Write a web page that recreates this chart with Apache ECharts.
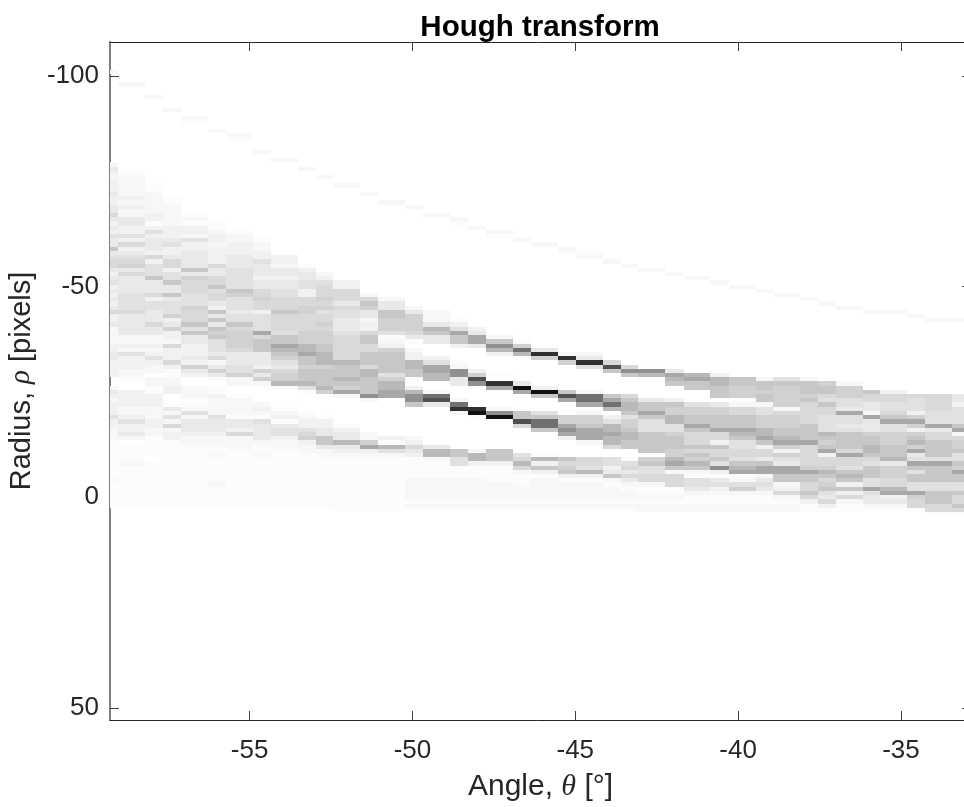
<!DOCTYPE html>
<html>
<head>
<meta charset="utf-8">
<title>Hough transform</title>
<script src="https://cdn.jsdelivr.net/npm/echarts@6/dist/echarts.min.js"></script>
<style>
    html,body{margin:0;padding:0;background:#fff;overflow:hidden}
    #chart{width:964px;height:807px}
</style>
</head>
<body>
<div id="chart"></div>
<script>
// column borders of the image, in degrees
const thetaEdges = [-59.285,-59.04,-58.21,-57.66,-57.11,-56.28,-55.73,-54.90,-54.35,-53.52,-52.97,
    -52.45,-51.62,-51.06,-50.24,-49.68,-48.86,-48.30,-47.75,-46.92,-46.37,-45.54,-44.99,-44.16,-43.61,
    -43.06,-42.23,-41.67,-40.85,-40.29,-39.46,-38.94,-38.11,-37.56,-37.00,-36.18,-35.63,-34.80,-34.25,
    -33.42,-32.70]

// first rho of every column
const bandStart = [-79,-77,-74,-71,-67,-65,-63,-61,-57,-55,-53,-51,-48,-47,-45,-44,-42,-40,-38,-37,
    -35,-34,-34,-32,-31,-30,-30,-29,-29,-28,-28,-28,-28,-27,-27,-25,-25,-24,-24,-24]

// accumulator darkness per rho, one hex digit per row, read column by column
const bandVotes = [
    '2432 3334 3344 6434 3544 8456 6434 5343 4346 3342 2223 3443 3330 0243 2333 5332 2211 1111 1112 111111',
    '122222 32322 44335 36345 67464 44455 55644 44422 32533 32210 03333 22353 34201 11121 11111 1111',
    '11222 22331 35344 43635 55844 46355 44464 42232 35322 02211 33322 23322 11111 011111111111',
    '11222 22333 45334 66355 84484 55573 47332 63336 31122 33000 42526 23311 11111111111111',
    '12133 25334 44484 76665 55766 68584 43334 37430 02221 12524 44322 111111111111111',
    '11233 23333 64466 85664 38484 87855 54624 74101 13222 25444 32211 21111 11211 111',
    '12233 34445 55558 75554 55867 77764 44557 22001 22221 44362 22111 11111111111',
    '12233 54443 44667 66355 55a68 88444 37472 00002 32154 44421 12111 111111111',
    '33244 34455 66686 66658 8a987 54677 91000 01231 45532 21111 1111111111',
    '13445 53366 77666 67779 9a887 88895 10000 12335 67322 1111111111111',
    '23566 67675 66767 77889 99788 88970 00001 33448 84221 11111111111',
    '33666 46554 44566 66669 88898 7a200 00001 34494 32111 1111111111',
    '26874 42336 88668 88699 8888b 20000 00022 7a321 111111111111',
    '24488 77751 23788 88857 99aa0 00000 00031 95211 11111111111',
    '24777 76410 23399 88103 9bb80 00000 02364 31111 122222121',
    '22249 84400 035aa 99002 cd400 00000 00499 21111 22222121',
    '135a8 83000 12bb4 40002 ce200 00000 08855 11122 222121',
    '34aa4 00000 37db1 0000e f1000 00002 99311 122222121',
    '28b93 00001 0ea00 002bf 10000 00888 31111 2222121',
    '17c90 00000 4fa00 0088d 60000 00569 62111 222121',
    '4e700 00003 f8000 58cc8 00000 19383 122222121',
    '2e700 00008 da000 77aba 30000 86783 12222121',
    '24e50 00002 cca12 778aa a2000 66593 12222121',
    '6d800 0008a c9035 99a99 60055 34821 222121',
    '6b800 00689 98577 89988 00156 46421 22121',
    'b9100 00488 a8555 88888 07855 66211 2122',
    '4a980 00387 79955 78887 79a82 66611 2122',
    '9a880 00577 88a86 66868 79821 55421 122',
    '39988 80477 888a6 63866 85b31 45321 122',
    '88777 12668 88a98 55665 89a12 57211 22',
    '28878 82557 7799a 83664 8aa24 54211 22',
    '58777 77267 77889 a7375 4aa88 23621 22',
    '28887 86666 68888 a6666 67a88 66863 11',
    '78865 86655 55987 8a366 79867 85463 1',
    '27775 54a55 45888 86a66 58983 83621 1',
    '86644 2a444 78899 86588 855a5 4421',
    '36655 68a55 77788 89477 7669a 3421',
    '65553 7a737 897a4 5a858 855a7 661',
    '66665 55a46 68888 5a888 85588 8661',
    '44355 558a2 67785 587a8 85586 6861'
]

// the faint separate trace above the bands: rho per column
const traceRho = [-101,-98,-95,-92,-90,-87,-86,-82,-80,-78,-76,-74,-72,-70,-69,-67,-66,-64,-63,-61,
    -60,-59,-57,-56,-55,-54,-53,-52,-51,-50,-49,-48,-47,-46,-45,-44,-44,-43,-42,-42]
// columns where the trace also touches a second, paler row [column, rho]
const traceExtra = [[4,-89],[6,-85],[16,-65],[18,-62],[21,-58],[22,-58]]

// hex digit -> grey value
const greyLevels = [255,252,247,241,233,225,217,209,199,185,168,144,112,80,48,16]

const angleTicks = [-55,-50,-45,-40,-35]
const radiusTicks = [-100,-50,0,50]

const inkColor = '#262626'
const labelFont = '"Liberation Sans", Arial, sans-serif'

function buildCells(){
    let cells = []
    bandVotes.forEach((col,k) =>{
        let digits = col.replace(/ /g,'')
        for(let i = 0; i < digits.length; i++){
            let level = parseInt(digits[i],16)
            if(level > 0){
                cells.push([thetaEdges[k],thetaEdges[k+1],bandStart[k]+i,level])
            }
        }
    })
    traceRho.forEach((rho,k) =>{
        cells.push([thetaEdges[k],thetaEdges[k+1],rho,2])
    })
    traceExtra.forEach(item =>{
        cells.push([thetaEdges[item[0]],thetaEdges[item[0]+1],item[1],1])
    })
    return cells
}

function renderCell(params,api){
    let a = api.coord([api.value(0),api.value(2)-0.5])
    let b = api.coord([api.value(1),api.value(2)+0.5])
    let g = greyLevels[api.value(3)]
    let x = Math.round(a[0]), y = Math.round(a[1])
    return {
        type:'rect',
        shape:{x:x,y:y,width:Math.round(b[0])-x,height:Math.round(b[1])-y},
        style:{fill:'rgb('+g+','+g+','+g+')'}
    }
}

function sideAxis(extra,lineColor,customTicks){
    return Object.assign({
        type:'value',
        axisLine:{show:true,onZero:false,lineStyle:{color:lineColor,width:1}},
        axisTick:{show:true,inside:true,length:9,customValues:customTicks,lineStyle:{color:'#404040',width:1}},
        axisLabel:{show:false},
        splitLine:{show:false}
    },extra)
}

let myChart = echarts.init(document.getElementById('chart'),null,{renderer:'canvas'})
myChart.setOption({
    animation:false,
    backgroundColor:'#ffffff',
    title:{
        text:'Hough transform',
        left:535,
        top:8,
        textAlign:'center',
        textStyle:{color:'#000',fontFamily:labelFont,fontWeight:'bold',fontSize:29.5}
    },
    grid:{left:110,top:42,width:861,height:678,outerBoundsMode:'none'},
    xAxis:[
        sideAxis({
            position:'bottom',min:-59.285,max:-32.85,
            axisLabel:{show:true,customValues:angleTicks,color:inkColor,fontFamily:labelFont,fontSize:26,margin:18,
                formatter:v => String(v)},
            name:'Angle, {i|θ} [°]',
            nameLocation:'middle',
            nameGap:52,
            nameTextStyle:{color:inkColor,fontFamily:labelFont,fontSize:30,
                rich:{i:{fontFamily:'"Liberation Serif", serif',fontStyle:'italic',fontSize:30,color:inkColor}}}
        },inkColor,angleTicks),
        sideAxis({position:'top',min:-59.285,max:-32.85},inkColor,angleTicks)
    ],
    yAxis:[
        sideAxis({
            position:'left',inverse:true,min:-108.1,max:52.9,
            axisLine:{show:true,onZero:false,lineStyle:{color:'#808080',width:2}},
            axisLabel:{show:true,customValues:radiusTicks,color:inkColor,fontFamily:labelFont,fontSize:26,margin:11,
                formatter:v => String(v)},
            name:'Radius, {i|ρ} [pixels]',
            nameLocation:'middle',
            nameGap:62,
            nameRotate:90,
            nameTextStyle:{color:inkColor,fontFamily:labelFont,fontSize:29,
                rich:{i:{fontFamily:'"Liberation Serif", serif',fontStyle:'italic',fontSize:29,color:inkColor}}}
        },'#808080',radiusTicks),
        sideAxis({position:'right',inverse:true,min:-108.1,max:52.9},inkColor,radiusTicks)
    ],
    series:[{
        type:'custom',
        coordinateSystem:'cartesian2d',
        xAxisIndex:0,
        yAxisIndex:0,
        clip:true,
        silent:true,
        encode:{x:[0,1],y:2},
        renderItem:renderCell,
        data:buildCells()
    }]
})
</script>
</body>
</html>
